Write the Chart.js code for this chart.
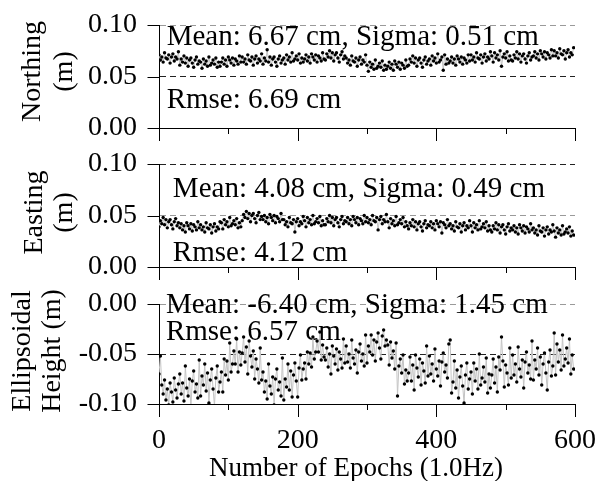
<!DOCTYPE html>
<html>
<head>
<meta charset="utf-8">
<script src="https://cdn.jsdelivr.net/npm/chart.js@4.4.0/dist/chart.umd.min.js"></script>
<style>
  html, body { margin: 0; padding: 0; background: #fff; }
  #wrap { position: relative; width: 598px; height: 481px; overflow: hidden; }
  #wrap canvas { position: absolute; left: 0; top: 0; }
</style>
</head>
<body>
<div id="wrap">
  <canvas id="northChart" width="598" height="481"></canvas>
  <canvas id="eastChart" width="598" height="481"></canvas>
  <canvas id="heightChart" width="598" height="481"></canvas>
</div>
<script>
const FONT = "'Liberation Serif', 'Times New Roman', serif";
const EPOCH_STEP = 2;       // one sample drawn every 2 epochs
const M_PER_CM = 0.01;

// values, in cm (15 per row = 30 epochs)
const northingCm = [
  7.1, 6.6, 6.9, 6.4, 7.3, 6.8, 6.7, 7.1, 6.3, 6.9, 7.2, 6.5, 6.9, 6.7, 7.4,
  6.1, 6.7, 6.4, 7.0, 6.3, 6.8, 6.0, 6.6, 6.8, 6.3, 5.9, 6.6, 6.9, 6.2, 6.5,
  6.4, 5.8, 6.7, 6.2, 6.5, 6.0, 6.9, 6.1, 6.3, 6.6, 6.2, 6.8, 5.9, 6.4, 6.0,
  6.4, 6.8, 6.2, 6.6, 6.0, 6.9, 6.6, 6.3, 6.8, 6.1, 6.7, 6.5, 6.2, 7.0, 6.4,
  6.9, 6.4, 6.7, 6.2, 7.1, 6.6, 6.5, 6.9, 6.1, 6.7, 7.0, 6.3, 6.7, 6.5, 7.2,
  6.2, 6.8, 6.5, 7.6, 6.4, 6.9, 6.1, 6.7, 6.9, 6.4, 6.0, 6.7, 7.0, 6.3, 6.6,
  6.8, 6.2, 7.1, 6.6, 6.9, 6.4, 7.3, 6.5, 6.7, 7.0, 6.6, 7.2, 6.3, 6.8, 6.4,
  6.7, 7.1, 6.5, 6.9, 6.3, 7.2, 6.9, 6.6, 7.1, 6.4, 7.0, 6.8, 6.5, 7.3, 6.7,
  6.6, 7.2, 6.9, 7.5, 6.8, 7.3, 6.5, 7.1, 7.3, 6.8, 6.4, 7.1, 7.4, 6.7, 7.0,
  6.8, 6.3, 6.6, 6.1, 7.0, 6.5, 6.4, 6.8, 6.0, 6.6, 6.9, 6.2, 6.6, 6.4, 7.1,
  6.1, 5.5, 6.4, 5.9, 6.2, 5.7, 6.6, 5.8, 6.0, 6.3, 5.9, 6.5, 5.6, 6.1, 5.7,
  6.0, 6.4, 5.8, 6.2, 5.6, 6.5, 6.2, 5.9, 6.4, 5.7, 6.3, 6.1, 5.8, 6.6, 6.0,
  6.1, 6.7, 6.4, 7.0, 6.3, 6.8, 6.0, 6.6, 6.8, 6.3, 5.9, 6.6, 6.9, 6.2, 6.5,
  6.7, 6.1, 7.0, 6.5, 6.8, 6.3, 7.2, 6.4, 6.6, 6.9, 5.6, 7.1, 6.2, 6.7, 6.3,
  6.5, 6.9, 6.3, 6.7, 6.1, 7.0, 6.7, 6.4, 6.9, 6.2, 6.8, 6.6, 6.3, 7.1, 6.5,
  7.1, 6.6, 6.9, 6.4, 7.3, 6.8, 6.7, 7.1, 6.3, 6.9, 7.2, 6.5, 6.9, 6.7, 7.4,
  7.0, 6.4, 7.3, 6.8, 7.1, 6.6, 7.5, 6.0, 6.9, 7.2, 6.8, 7.4, 6.5, 7.0, 6.6,
  6.5, 7.1, 6.8, 7.4, 6.7, 7.2, 6.4, 7.0, 7.2, 6.7, 6.3, 7.0, 7.3, 6.6, 6.9,
  7.0, 7.4, 6.8, 7.2, 6.6, 7.5, 7.2, 6.9, 7.4, 6.7, 7.3, 7.1, 6.8, 7.6, 7.0,
  7.5, 7.0, 7.3, 6.8, 7.7, 7.2, 7.1, 7.5, 6.7, 7.3, 7.6, 6.9, 7.3, 7.1, 7.8
];
const eastingCm = [
  3.9, 4.5, 4.2, 4.8, 4.1, 4.6, 3.8, 4.4, 4.6, 4.1, 3.7, 4.4, 4.7, 4.0, 4.3,
  3.8, 4.2, 3.6, 4.0, 3.4, 4.3, 4.0, 3.7, 4.2, 3.5, 4.1, 3.9, 3.6, 4.4, 3.8,
  4.1, 3.6, 3.9, 3.4, 4.3, 3.8, 3.7, 4.1, 3.3, 3.9, 4.2, 3.5, 3.9, 3.7, 4.4,
  4.3, 3.7, 4.6, 4.1, 4.4, 3.9, 4.8, 4.0, 4.2, 4.5, 4.1, 4.7, 3.8, 4.3, 3.9,
  4.5, 5.1, 4.8, 5.4, 4.7, 5.2, 4.4, 5.0, 5.2, 4.7, 4.3, 5.0, 5.3, 4.6, 4.9,
  4.6, 5.0, 4.4, 4.8, 4.2, 5.1, 4.8, 4.5, 5.0, 4.3, 4.9, 4.7, 4.4, 5.2, 4.6,
  4.6, 4.1, 4.4, 3.9, 4.8, 4.3, 4.2, 4.6, 3.4, 4.4, 4.7, 4.0, 4.4, 4.2, 4.9,
  4.5, 3.9, 4.8, 4.3, 4.6, 4.1, 5.0, 4.2, 4.4, 4.7, 4.3, 4.9, 4.0, 4.5, 4.1,
  4.1, 4.7, 4.4, 5.0, 4.3, 4.8, 4.0, 4.6, 4.8, 4.3, 3.9, 4.6, 4.9, 4.2, 4.5,
  4.4, 4.8, 4.2, 4.6, 4.0, 4.9, 4.6, 4.3, 4.8, 4.1, 4.7, 4.5, 4.2, 5.0, 4.4,
  4.8, 4.3, 4.6, 4.1, 5.0, 4.5, 4.4, 4.8, 3.6, 4.6, 4.9, 4.2, 4.6, 4.4, 5.1,
  4.4, 3.8, 4.7, 4.2, 4.5, 4.0, 4.9, 4.1, 4.3, 4.6, 4.2, 4.8, 3.9, 4.4, 4.0,
  3.7, 4.3, 4.0, 4.6, 3.9, 4.4, 3.6, 4.2, 4.4, 3.9, 3.5, 4.2, 4.5, 3.8, 4.1,
  4.0, 4.4, 3.8, 4.2, 3.6, 4.5, 4.2, 3.9, 4.4, 3.3, 4.3, 4.1, 3.8, 4.6, 4.0,
  4.2, 3.7, 4.0, 3.5, 4.4, 3.9, 3.8, 4.2, 3.4, 4.0, 4.3, 3.6, 4.0, 3.8, 4.5,
  4.0, 3.4, 4.3, 3.8, 4.1, 3.6, 4.5, 3.7, 3.9, 4.2, 3.8, 4.4, 3.5, 4.0, 3.6,
  3.4, 4.0, 3.7, 4.3, 3.6, 4.1, 3.3, 3.9, 4.1, 3.6, 3.2, 3.9, 4.2, 3.5, 3.8,
  3.6, 4.0, 3.4, 3.8, 3.2, 4.1, 3.8, 3.5, 4.0, 3.3, 3.9, 3.7, 3.4, 4.2, 3.6,
  3.8, 3.3, 3.6, 3.1, 4.0, 3.5, 3.4, 3.8, 3.0, 3.6, 3.9, 3.2, 3.6, 3.4, 4.1,
  3.5, 2.9, 3.8, 3.3, 3.6, 3.1, 4.0, 3.2, 3.4, 3.7, 3.3, 3.9, 3.0, 3.5, 3.1
];
const heightCm = [
  -7.0, -5.2, -8.1, -9.0, -7.6, -9.6, -8.5, -10.1, -7.9, -8.8, -9.8, -7.4, -8.6, -9.4, -8.0,
  -7.0, -9.0, -7.9, -9.7, -6.2, -8.4, -9.2, -7.5, -10.3, -7.7, -6.7, -8.8, -8.0, -9.4, -5.6,
  -9.2, -7.2, -8.1, -6.0, -8.7, -6.9, -9.9, -7.6, -6.5, -8.5, -10.2, -7.4, -6.2, -8.8, -7.8,
  -6.8, -8.8, -5.5, -7.1, -5.7, -7.6, -3.9, -6.8, -6.0, -4.7, -6.0, -3.5, -6.8, -4.8, -6.1,
  -4.9, -3.3, -5.8, -4.3, -7.0, -3.7, -5.2, -6.3, -4.7, -7.5, -5.5, -6.5, -7.9, -4.4, -7.6,
  -6.8, -8.8, -7.7, -9.5, -6.0, -8.2, -9.0, -7.3, -10.1, -7.5, -6.5, -8.6, -7.8, -9.2, -5.4,
  -9.6, -7.5, -8.3, -6.0, -8.6, -6.7, -9.3, -7.1, -5.9, -7.7, -9.3, -6.4, -5.1, -7.6, -6.5,
  -5.9, -7.5, -4.8, -6.0, -4.9, -6.3, -3.3, -5.5, -4.8, -3.7, -4.8, -2.8, -5.6, -4.1, -5.3,
  -5.6, -4.4, -6.3, -5.0, -7.0, -4.2, -5.2, -6.0, -4.5, -6.6, -4.8, -5.5, -6.4, -3.5, -5.9,
  -4.2, -5.8, -5.0, -6.4, -3.6, -5.4, -6.0, -4.6, -6.9, -4.8, -4.0, -5.7, -5.0, -6.2, -3.1,
  -5.9, -4.2, -4.8, -3.1, -5.1, -3.6, -5.7, -3.8, -2.9, -4.4, -5.5, -3.2, -2.6, -4.2, -3.6,
  -4.1, -6.1, -3.8, -5.4, -4.7, -6.5, -3.9, -9.2, -6.2, -5.5, -6.9, -5.1, -8.0, -6.6, -7.7,
  -6.9, -5.3, -7.7, -6.1, -8.6, -5.1, -6.4, -7.3, -5.5, -8.1, -5.9, -6.7, -7.9, -4.2, -7.2,
  -5.2, -7.0, -6.0, -7.7, -4.5, -6.5, -7.2, -5.7, -8.2, -5.8, -4.9, -6.8, -6.1, -7.4, -4.0,
  -3.6, -8.9, -7.8, -5.7, -8.4, -6.6, -9.4, -7.3, -6.2, -8.2, -9.9, -7.1, -5.9, -8.5, -7.5,
  -6.8, -9.0, -5.9, -7.7, -6.5, -8.5, -5.0, -8.1, -7.4, -6.3, -7.8, -5.4, -8.9, -7.0, -8.4,
  -7.1, -5.5, -7.9, -6.3, -8.8, -5.3, -6.6, -3.3, -5.7, -8.3, -6.1, -6.9, -8.1, -4.4, -7.4,
  -5.1, -7.1, -6.0, -7.8, -4.3, -6.5, -7.3, -5.6, -8.4, -5.8, -4.8, -6.9, -6.1, -7.5, -3.7,
  -7.6, -5.6, -6.5, -4.4, -7.1, -5.3, -8.1, -6.0, -4.9, -6.9, -8.6, -5.8, -4.6, -7.2, -6.2,
  -2.9, -7.1, -4.0, -5.8, -4.6, -6.6, -3.1, -6.2, -5.5, -4.4, -5.9, -3.5, -7.0, -5.1, -6.5
];

const xMajorTicks = [0, 200, 400, 600];
const xTitle = 'Number of Epochs (1.0Hz)';

const isMajorY = v => Math.abs(Math.round(v * 1000)) % 50 === 0;
const toPoints = arr => arr.map((v, i) => ({ x: i * EPOCH_STEP, y: v * M_PER_CM }));

const panels = [
  {
    id: 'northChart', values: northingCm, yMin: 0, yMax: 0.10,
    dashed: { '100': '#9a9a9a', '50': '#222' },
    title: ['Northing', '(m)'], titleX: [33, 65], titleShift: -5,
    notes: [
      { text: 'Mean: 6.67 cm, Sigma: 0.51 cm', x: 11, y: 0.0806 },
      { text: 'Rmse: 6.69 cm', x: 11, y: 0.0194 }
    ],
    top: 25, bottom: 128, showX: false
  },
  {
    id: 'eastChart', values: eastingCm, yMin: 0, yMax: 0.10,
    dashed: { '100': '#222', '50': '#9a9a9a' },
    title: ['Easting', '(m)'], titleX: [35, 65], titleShift: -3,
    notes: [
      { text: 'Mean: 4.08 cm, Sigma: 0.49 cm', x: 20, y: 0.0683 },
      { text: 'Rmse: 4.12 cm', x: 20, y: 0.0061 }
    ],
    top: 164, bottom: 267, showX: false
  },
  {
    id: 'heightChart', values: heightCm, yMin: -0.10, yMax: 0.00,
    dashed: { '0': '#9a9a9a', '-50': '#222' },
    title: ['Ellipsoidal', 'Height (m)'], titleX: [23, 53], titleShift: -3,
    notes: [
      { text: 'Mean: -6.40 cm, Sigma: 1.45 cm', x: 10, y: -0.0087 },
      { text: 'Rmse: 6.57 cm', x: 10, y: -0.036 }
    ],
    top: 304, bottom: 404, showX: true
  }
];

// text notes, tick marks of two lengths and the axis titles
const decor = {
  id: 'decor',
  beforeDatasetsDraw(chart, args, o) {
    const { ctx, scales: { x, y } } = chart;
    ctx.save();
    ctx.fillStyle = '#000';
    ctx.font = `29px ${FONT}`;
    ctx.textAlign = 'left';
    ctx.textBaseline = 'alphabetic';
    o.notes.forEach(n => ctx.fillText(n.text, x.getPixelForValue(n.x), y.getPixelForValue(n.y)));
    ctx.restore();
  },
  afterDraw(chart, args, o) {
    const { ctx, chartArea: a, scales: { x, y } } = chart;
    ctx.save();
    ctx.strokeStyle = '#000';
    ctx.lineWidth = 1;
    ctx.beginPath();
    x.ticks.forEach(t => {
      const px = Math.round(x.getPixelForValue(t.value)) + 0.5;
      const len = xMajorTicks.includes(t.value) ? 13 : 6;
      ctx.moveTo(px, a.bottom);
      ctx.lineTo(px, a.bottom + len);
    });
    y.ticks.forEach(t => {
      const py = Math.round(y.getPixelForValue(t.value)) + 0.5;
      const len = isMajorY(t.value) ? 12 : 6;
      ctx.moveTo(a.left + 0.5, py);
      ctx.lineTo(a.left + 0.5 - len, py);
    });
    ctx.stroke();

    ctx.fillStyle = '#000';
    ctx.font = `28px ${FONT}`;
    ctx.textAlign = 'center';
    ctx.textBaseline = 'middle';
    const cy = (a.top + a.bottom) / 2 + o.titleShift;
    o.title.forEach((line, i) => {
      ctx.save();
      ctx.translate(o.titleX[i], cy);
      ctx.rotate(-Math.PI / 2);
      ctx.fillText(line, 0, 0);
      ctx.restore();
    });

    if (o.showX) {
      // x title sits a little left of the plot centre, as in the source figure
      ctx.font = `27px ${FONT}`;
      ctx.fillText(xTitle, (a.left + a.right) / 2 - 11, 469);
    }
    ctx.restore();
  }
};

function makePanel(p) {
  const xHeight = p.showX ? 481 - p.bottom : 0;
  return new Chart(document.getElementById(p.id), {
    type: 'line',
    data: {
      datasets: [{
        data: toPoints(p.values),
        borderColor: '#c4c4c4',
        borderWidth: 1,
        pointRadius: 1.7,
        pointBorderWidth: 0,
        pointBackgroundColor: '#000',
        tension: 0
      }]
    },
    options: {
      responsive: false,
      devicePixelRatio: 1,
      animation: false,
      events: [],
      layout: { padding: { left: 0, right: 23, top: p.top, bottom: 481 - p.bottom - xHeight } },
      plugins: {
        legend: { display: false },
        tooltip: { enabled: false },
        decor: { notes: p.notes, title: p.title, titleX: p.titleX, titleShift: p.titleShift, showX: p.showX }
      },
      scales: {
        x: {
          type: 'linear', min: 0, max: 600,
          afterFit: s => { s.height = xHeight; s.paddingLeft = 0; s.paddingRight = 0; },
          ticks: {
            display: p.showX, stepSize: 100, autoSkip: false, maxRotation: 0, padding: 20,
            color: '#000', font: { family: FONT, size: 28 },
            callback: v => xMajorTicks.includes(v) ? String(v) : ''
          },
          grid: { drawOnChartArea: false, drawTicks: false },
          border: { color: '#000', width: 1 }
        },
        y: {
          type: 'linear', min: p.yMin, max: p.yMax,
          afterFit: s => { s.width = 159; s.paddingTop = 0; s.paddingBottom = 0; },
          ticks: {
            stepSize: 0.025, padding: 22, color: '#000',
            font: { family: FONT, size: 28 },
            callback: v => isMajorY(v) ? v.toFixed(2) : ''
          },
          grid: {
            drawTicks: false,
            color: c => {
              if (!c.tick) return 'rgba(0,0,0,0)';
              const k = String(Math.round(c.tick.value * 1000));
              return p.dashed[k] || 'rgba(0,0,0,0)';
            }
          },
          border: { color: '#000', width: 1, dash: [6, 4] }
        }
      }
    },
    plugins: [decor]
  });
}

panels.forEach(makePanel);
</script>
</body>
</html>
